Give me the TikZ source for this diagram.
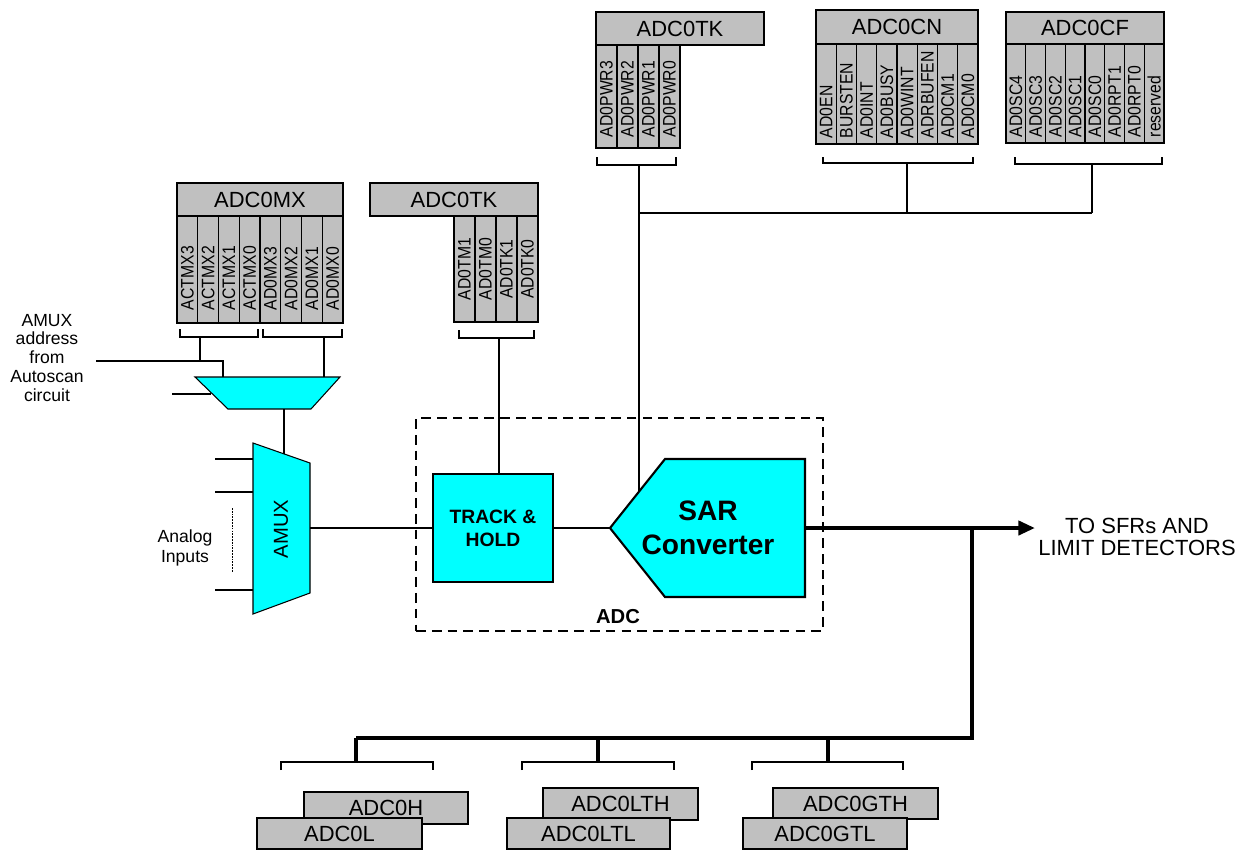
\documentclass[tikz,border=0pt]{standalone}
\usepackage{fontspec}
\usepackage{graphicx}
\setmainfont{Liberation Sans}
\usetikzlibrary{arrows.meta}
\definecolor{regfill}{RGB}{192,192,192}
\definecolor{blkfill}{RGB}{0,255,255}
\newcommand{\bitlbl}[1]{\scalebox{0.87}[1]{#1}}
\tikzset{
  regbox/.style  = {draw=black, fill=regfill, line width=0.7pt, inner sep=0pt,
                    font=\fontsize{12.5}{14}\selectfont},
  bitcol/.style  = {draw=black, fill=regfill, line width=0.7pt, rotate=90,
                    inner ysep=0pt, align=left, font=\fontsize{10.3}{11}\selectfont},
  wire/.style    = {black, line width=0.6pt},
  bus/.style     = {black, line width=2.3pt},
  brkt/.style    = {black, line width=0.6pt},
  blk/.style     = {draw=black, fill=blkfill, line width=0.6pt},
  adcbox/.style  = {draw=black, line width=1.1pt, dash pattern=on 5.5pt off 3.5pt},
  txtlbl/.style  = {align=center, font=\fontsize{10}{10.8}\selectfont}
}

\begin{document}
\begin{tikzpicture}[x=0.02cm, y=-0.02cm]
  \useasboundingbox (0,0) rectangle (1242,850);

  % registers at the top
  \foreach \lbl [count=\i] in {AD0PWR3,AD0PWR2,AD0PWR1,AD0PWR0}
    \node[bitcol, minimum width=2.06cm, minimum height=0.42cm, inner xsep=0.22cm,
          text width=1.62cm] (pwr\i) at ({585.5+21*\i},96.5) {\bitlbl{\lbl}};
  \node[regbox, minimum width=3.36cm, minimum height=0.66cm] (tkpwr) at (680,28.5) {ADC0TK};

  \foreach \lbl [count=\i] in {AD0EN,BURSTEN,AD0INT,AD0BUSY,AD0WINT,ADRBUFEN,AD0CM1,AD0CM0}
    \node[bitcol, minimum width=2.0cm, minimum height=0.405cm, inner xsep=0.12cm,
          text width=1.76cm] (cn\i) at ({805.875+20.25*\i},94) {\bitlbl{\lbl}};
  \node[regbox, minimum width=3.24cm, minimum height=0.68cm] (adccn) at (897,27) {ADC0CN};

  \foreach \lbl [count=\i] in {AD0SC4,AD0SC3,AD0SC2,AD0SC1,AD0SC0,AD0RPT1,AD0RPT0,reserved}
    \node[bitcol, minimum width=1.98cm, minimum height=0.395cm, inner xsep=0.12cm,
          text width=1.74cm] (cf\i) at ({996.125+19.75*\i},93.5) {\bitlbl{\lbl}};
  \node[regbox, minimum width=3.16cm, minimum height=0.64cm] (adccf) at (1085,28) {ADC0CF};

  \foreach \lbl [count=\i] in {ACTMX3,ACTMX2,ACTMX1,ACTMX0,AD0MX3,AD0MX2,AD0MX1,AD0MX0}
    \node[bitcol, minimum width=2.14cm, minimum height=0.415cm, inner xsep=0.26cm,
          text width=1.62cm] (mx\i) at ({166.625+20.75*\i},269.5) {\bitlbl{\lbl}};
  \node[regbox, minimum width=3.32cm, minimum height=0.66cm] (adcmx) at (260,199.5) {ADC0MX};

  \foreach \lbl [count=\i] in {AD0TM1,AD0TM0,AD0TK1,AD0TK0}
    \node[bitcol, align=center, minimum width=2.12cm, minimum height=0.42cm, inner xsep=0.26cm,
          text width=1.6cm] (tm\i) at ({443.5+21*\i},269) {\bitlbl{\lbl}};
  \node[regbox, minimum width=3.36cm, minimum height=0.66cm] (tkmid) at (454,199.5) {ADC0TK};

  % brackets
  \draw[brkt] (597,157) -- (597,165) -- (676,165) -- (676,157);
  \draw[brkt] (823,157) -- (823,163) -- (973,163) -- (973,157);
  \draw[brkt] (1015,157) -- (1015,164) -- (1162,164) -- (1162,157);
  \draw[brkt] (180,329) -- (180,337) -- (258,337) -- (258,329);
  \draw[brkt] (263,329) -- (263,337) -- (342,337) -- (342,329);
  \draw[brkt] (459,330) -- (459,338) -- (534,338) -- (534,330);
  \coordinate (pwrbr) at (639,165);
  \coordinate (cnbr) at (907,163);
  \coordinate (cfbr) at (1092,164);
  \coordinate (mxlbr) at (200,337);
  \coordinate (mxrbr) at (324,337);
  \coordinate (tkbr) at (499,338);

  % ADC block
  \node[adcbox, minimum width=8.14cm, minimum height=4.26cm] (adc) at (619.5,524.5) {};
  \node[font=\bfseries\fontsize{11.5}{13}\selectfont] (adclbl) at (618,617) {ADC};
  \node[blk, minimum width=2.4cm, minimum height=2.16cm, align=center,
        font=\bfseries\fontsize{11}{13}\selectfont] (th) at (493,528) {TRACK \&\\HOLD};
  \coordinate (sartip) at (610,528);
  \coordinate (sarhit) at (639,491);
  \coordinate (sarout) at (805,528);
  \draw[blk, line width=1.2pt] (sartip) -- (665,459) -- (805,459) -- (805,597) -- (665,597) -- cycle;
  \node[align=center, font=\bfseries\fontsize{16}{19}\selectfont] (sar) at (708,528) {SAR\\Converter};

  % multiplexers
  \coordinate (smuxin) at (223,377);
  \coordinate (smuxsel) at (324,377);
  \coordinate (smuxl) at (211,394);
  \coordinate (smuxo) at (284,409);
  \draw[blk] (195,377) -- (340,377) -- (311,409) -- (228,409) -- cycle;
  \coordinate (amuxt) at (284,454);
  \coordinate (amuxl) at (253,528);
  \coordinate (amuxo) at (310,528);
  \draw[blk] (253,443) -- (310,463) -- (310,593) -- (253,614) -- cycle;
  \node[rotate=90, font=\fontsize{11.5}{13}\selectfont] (amux) at (281,529) {AMUX};

  \node[txtlbl] (addrtxt) at (47,358) {AMUX\\address\\from\\Autoscan\\circuit};
  \node[txtlbl, font=\fontsize{10}{11.3}\selectfont] (anin) at (185,548) {Analog\\Inputs};
  \coordinate (addr) at (96,361);
  \coordinate (selin) at (172,394);

  % wires
  \draw[wire] (mxlbr) -- (mxlbr |- addr);
  \draw[wire] (addr) -| (smuxin);
  \draw[wire] (mxrbr) -- (smuxsel);
  \draw[wire] (selin) -- (smuxl);
  \draw[wire] (smuxo) -- (amuxt);
  \foreach \yy [count=\k] in {459,492,590} {
    \coordinate (ain\k) at (215,\yy);
    \draw[wire] (ain\k) -- (ain\k -| amuxl);
  }
  \coordinate (dtop) at (232,508);
  \coordinate (dbot) at (232,572);
  \draw[black, line width=0.4pt, dash pattern=on 1pt off 0.6pt] (dtop) -- (dbot);
  \draw[wire] (amuxo) -- (th.west);
  \draw[wire] (tkbr) -- (tkbr |- th.north);
  \draw[wire] (th.east) -- (sartip);
  \coordinate (jpwr) at (639,213);
  \coordinate (jcf) at (1092,213);
  \draw[wire] (pwrbr) -- (sarhit);
  \draw[wire] (jpwr) -- (jcf);
  \draw[wire] (cnbr) -- (cnbr |- jpwr);
  \draw[wire] (cfbr) -- (jcf);

  % output bus
  \node[align=center, font=\fontsize{12.5}{12.5}\selectfont] (sfr) at (1137,537) {TO SFRs AND\\LIMIT DETECTORS};
  \coordinate (busend) at (1035,528);
  \draw[bus, -{Triangle[length=9.5pt,width=8pt]}] (sarout) -- (busend);
  \coordinate (jbus) at (972,528);
  \coordinate (jbot) at (972,738);
  \coordinate (hbr) at (356,762);
  \coordinate (ltbr) at (598,762);
  \coordinate (gtbr) at (828,762);
  \draw[bus] (jbus) -- (jbot) -- (hbr |- jbot);
  \draw[bus] (hbr |- jbot) -- (hbr);
  \draw[bus] (ltbr |- jbot) -- (ltbr);
  \draw[bus] (gtbr |- jbot) -- (gtbr);
  \draw[brkt] (281,770) -- (281,762) -- (433,762) -- (433,770);
  \draw[brkt] (522,770) -- (522,762) -- (674,762) -- (674,770);
  \draw[brkt] (752,770) -- (752,762) -- (903,762) -- (903,770);

  % registers at the bottom
  \node[regbox, minimum width=3.28cm, minimum height=0.64cm] (adch) at (386,808) {ADC0H};
  \node[regbox, minimum width=3.3cm, minimum height=0.62cm] (adcl) at (339.5,833.5) {ADC0L};
  \node[regbox, minimum width=3.1cm, minimum height=0.64cm] (adclth) at (620.5,804) {ADC0LTH};
  \node[regbox, minimum width=3.26cm, minimum height=0.62cm] (adcltl) at (588.5,833.5) {ADC0LTL};
  \node[regbox, minimum width=3.3cm, minimum height=0.62cm] (adcgth) at (855.5,803.5) {ADC0GTH};
  \node[regbox, minimum width=3.28cm, minimum height=0.62cm] (adcgtl) at (825,833.5) {ADC0GTL};
\end{tikzpicture}
\end{document}
